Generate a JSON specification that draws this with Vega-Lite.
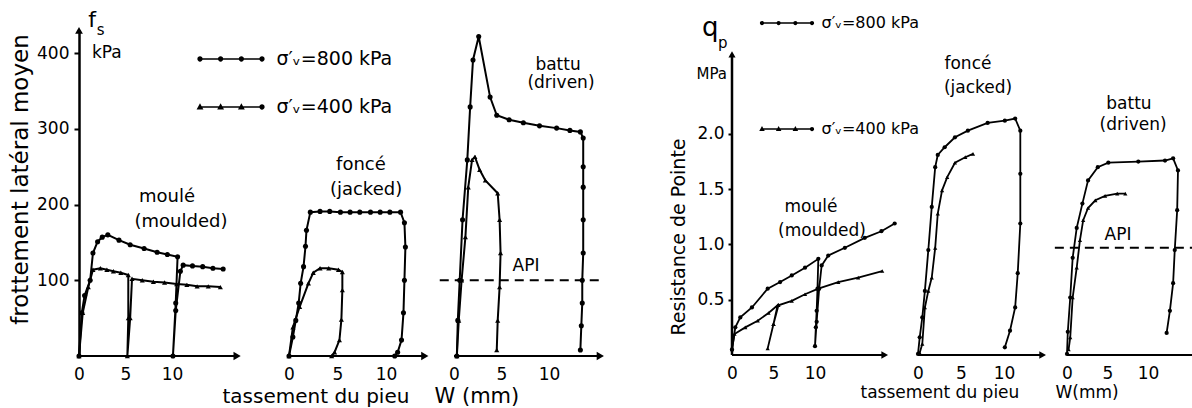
{
"$schema": "https://vega.github.io/schema/vega-lite/v6.json",
"autosize": {"type": "none"},
"padding": {"left": 79, "top": 30, "right": 1113, "bottom": 378},
"background": "white",
"spacing": 0,
"bounds": "flush",
"config": {
 "view": {"stroke": null},
 "font": "DejaVu Sans",
 "text": {"font": "DejaVu Sans", "color": "black"},
 "axis": {"grid": false, "labelFont": "DejaVu Sans", "titleFont": "DejaVu Sans", "labelColor": "black", "titleColor": "black", "domainColor": "black", "tickColor": "black", "titleFontWeight": "normal", "labelFontSize": 17, "labelFlush": false},
 "legend": {"labelFont": "DejaVu Sans", "labelColor": "black"}
},
"datasets": {
 "fs": [
  {"pile":"moulé","stress":"800","i":1,"w":0,"fs":0},{"pile":"moulé","stress":"800","i":2,"w":0.3,"fs":57},{"pile":"moulé","stress":"800","i":3,"w":0.6,"fs":80},{"pile":"moulé","stress":"800","i":4,"w":1.2,"fs":100},{"pile":"moulé","stress":"800","i":5,"w":1.5,"fs":136},{"pile":"moulé","stress":"800","i":6,"w":2.0,"fs":151},{"pile":"moulé","stress":"800","i":7,"w":2.5,"fs":157},{"pile":"moulé","stress":"800","i":8,"w":3.1,"fs":160},{"pile":"moulé","stress":"800","i":9,"w":4.3,"fs":153},{"pile":"moulé","stress":"800","i":10,"w":5.5,"fs":147},{"pile":"moulé","stress":"800","i":11,"w":7.0,"fs":142},{"pile":"moulé","stress":"800","i":12,"w":8.4,"fs":137},{"pile":"moulé","stress":"800","i":13,"w":9.5,"fs":134},{"pile":"moulé","stress":"800","i":14,"w":10.6,"fs":131},{"pile":"moulé","stress":"800","i":15,"w":10.4,"fs":70},{"pile":"moulé","stress":"800","i":16,"w":10.1,"fs":0},{"pile":"moulé","stress":"800","i":17,"w":10.4,"fs":60},{"pile":"moulé","stress":"800","i":18,"w":10.9,"fs":112},{"pile":"moulé","stress":"800","i":19,"w":11.2,"fs":120},{"pile":"moulé","stress":"800","i":20,"w":12.2,"fs":119},{"pile":"moulé","stress":"800","i":21,"w":13.3,"fs":118},{"pile":"moulé","stress":"800","i":22,"w":14.4,"fs":116},{"pile":"moulé","stress":"800","i":23,"w":15.5,"fs":115},
  {"pile":"moulé","stress":"400","i":1,"w":0,"fs":0},{"pile":"moulé","stress":"400","i":2,"w":0.4,"fs":57},{"pile":"moulé","stress":"400","i":3,"w":1.0,"fs":91},{"pile":"moulé","stress":"400","i":4,"w":1.5,"fs":114},{"pile":"moulé","stress":"400","i":5,"w":2.3,"fs":116},{"pile":"moulé","stress":"400","i":6,"w":3.0,"fs":114},{"pile":"moulé","stress":"400","i":7,"w":3.7,"fs":112},{"pile":"moulé","stress":"400","i":8,"w":4.5,"fs":110},{"pile":"moulé","stress":"400","i":9,"w":5.3,"fs":107},{"pile":"moulé","stress":"400","i":10,"w":5.3,"fs":50},{"pile":"moulé","stress":"400","i":11,"w":5.2,"fs":0},{"pile":"moulé","stress":"400","i":12,"w":5.5,"fs":50},{"pile":"moulé","stress":"400","i":13,"w":5.7,"fs":102},{"pile":"moulé","stress":"400","i":14,"w":6.8,"fs":100},{"pile":"moulé","stress":"400","i":15,"w":8.0,"fs":98},{"pile":"moulé","stress":"400","i":16,"w":9.2,"fs":97},{"pile":"moulé","stress":"400","i":17,"w":10.5,"fs":95},{"pile":"moulé","stress":"400","i":18,"w":11.6,"fs":94},{"pile":"moulé","stress":"400","i":19,"w":12.7,"fs":92},{"pile":"moulé","stress":"400","i":20,"w":13.9,"fs":92},{"pile":"moulé","stress":"400","i":21,"w":15.2,"fs":91},
  {"pile":"foncé","stress":"800","i":1,"w":0,"fs":0},{"pile":"foncé","stress":"800","i":2,"w":0.4,"fs":25},{"pile":"foncé","stress":"800","i":3,"w":0.7,"fs":47},{"pile":"foncé","stress":"800","i":4,"w":1.0,"fs":70},{"pile":"foncé","stress":"800","i":5,"w":1.2,"fs":96},{"pile":"foncé","stress":"800","i":6,"w":1.5,"fs":118},{"pile":"foncé","stress":"800","i":7,"w":1.7,"fs":145},{"pile":"foncé","stress":"800","i":8,"w":1.8,"fs":166},{"pile":"foncé","stress":"800","i":9,"w":2.2,"fs":190},{"pile":"foncé","stress":"800","i":10,"w":3.2,"fs":191},{"pile":"foncé","stress":"800","i":11,"w":4.2,"fs":191},{"pile":"foncé","stress":"800","i":12,"w":5.3,"fs":190},{"pile":"foncé","stress":"800","i":13,"w":6.3,"fs":190},{"pile":"foncé","stress":"800","i":14,"w":7.3,"fs":190},{"pile":"foncé","stress":"800","i":15,"w":8.4,"fs":190},{"pile":"foncé","stress":"800","i":16,"w":9.4,"fs":190},{"pile":"foncé","stress":"800","i":17,"w":10.4,"fs":190},{"pile":"foncé","stress":"800","i":18,"w":11.5,"fs":190},{"pile":"foncé","stress":"800","i":19,"w":11.9,"fs":176},{"pile":"foncé","stress":"800","i":20,"w":12.0,"fs":144},{"pile":"foncé","stress":"800","i":21,"w":11.9,"fs":100},{"pile":"foncé","stress":"800","i":22,"w":11.8,"fs":57},{"pile":"foncé","stress":"800","i":23,"w":11.6,"fs":21},{"pile":"foncé","stress":"800","i":24,"w":11.2,"fs":5},{"pile":"foncé","stress":"800","i":25,"w":10.9,"fs":0},
  {"pile":"foncé","stress":"400","i":1,"w":0,"fs":0},{"pile":"foncé","stress":"400","i":2,"w":0.4,"fs":38},{"pile":"foncé","stress":"400","i":3,"w":1.1,"fs":65},{"pile":"foncé","stress":"400","i":4,"w":2.0,"fs":96},{"pile":"foncé","stress":"400","i":5,"w":2.5,"fs":110},{"pile":"foncé","stress":"400","i":6,"w":3.2,"fs":116},{"pile":"foncé","stress":"400","i":7,"w":4.1,"fs":116},{"pile":"foncé","stress":"400","i":8,"w":5.1,"fs":114},{"pile":"foncé","stress":"400","i":9,"w":5.5,"fs":111},{"pile":"foncé","stress":"400","i":10,"w":5.5,"fs":87},{"pile":"foncé","stress":"400","i":11,"w":5.4,"fs":48},{"pile":"foncé","stress":"400","i":12,"w":5.2,"fs":21},{"pile":"foncé","stress":"400","i":13,"w":4.7,"fs":5},{"pile":"foncé","stress":"400","i":14,"w":4.4,"fs":0},
  {"pile":"battu","stress":"800","i":1,"w":0.3,"fs":0},{"pile":"battu","stress":"800","i":2,"w":0.4,"fs":47},{"pile":"battu","stress":"800","i":3,"w":0.6,"fs":100},{"pile":"battu","stress":"800","i":4,"w":0.9,"fs":180},{"pile":"battu","stress":"800","i":5,"w":1.4,"fs":259},{"pile":"battu","stress":"800","i":6,"w":1.7,"fs":329},{"pile":"battu","stress":"800","i":7,"w":2.0,"fs":391},{"pile":"battu","stress":"800","i":8,"w":2.6,"fs":422},{"pile":"battu","stress":"800","i":9,"w":3.8,"fs":342},{"pile":"battu","stress":"800","i":10,"w":4.5,"fs":318},{"pile":"battu","stress":"800","i":11,"w":5.8,"fs":312},{"pile":"battu","stress":"800","i":12,"w":7.3,"fs":308},{"pile":"battu","stress":"800","i":13,"w":9.0,"fs":304},{"pile":"battu","stress":"800","i":14,"w":10.8,"fs":301},{"pile":"battu","stress":"800","i":15,"w":12.2,"fs":298},{"pile":"battu","stress":"800","i":16,"w":13.3,"fs":296},{"pile":"battu","stress":"800","i":17,"w":13.6,"fs":288},{"pile":"battu","stress":"800","i":18,"w":13.6,"fs":250},{"pile":"battu","stress":"800","i":19,"w":13.6,"fs":223},{"pile":"battu","stress":"800","i":20,"w":13.6,"fs":180},{"pile":"battu","stress":"800","i":21,"w":13.6,"fs":136},{"pile":"battu","stress":"800","i":22,"w":13.5,"fs":100},{"pile":"battu","stress":"800","i":23,"w":13.5,"fs":70},{"pile":"battu","stress":"800","i":24,"w":13.4,"fs":40},{"pile":"battu","stress":"800","i":25,"w":13.3,"fs":8},
  {"pile":"battu","stress":"400","i":1,"w":0.3,"fs":0},{"pile":"battu","stress":"400","i":2,"w":0.5,"fs":47},{"pile":"battu","stress":"400","i":3,"w":0.8,"fs":100},{"pile":"battu","stress":"400","i":4,"w":1.2,"fs":157},{"pile":"battu","stress":"400","i":5,"w":1.5,"fs":223},{"pile":"battu","stress":"400","i":6,"w":1.9,"fs":259},{"pile":"battu","stress":"400","i":7,"w":2.2,"fs":263},{"pile":"battu","stress":"400","i":8,"w":2.7,"fs":246},{"pile":"battu","stress":"400","i":9,"w":3.3,"fs":232},{"pile":"battu","stress":"400","i":10,"w":4.6,"fs":215},{"pile":"battu","stress":"400","i":11,"w":4.8,"fs":180},{"pile":"battu","stress":"400","i":12,"w":4.9,"fs":136},{"pile":"battu","stress":"400","i":13,"w":4.8,"fs":91},{"pile":"battu","stress":"400","i":14,"w":4.6,"fs":47},{"pile":"battu","stress":"400","i":15,"w":4.5,"fs":8}
 ],
 "qp": [
  {"pile":"moulé","stress":"800","i":1,"w":0,"qp":0.05},{"pile":"moulé","stress":"800","i":2,"w":0.4,"qp":0.25},{"pile":"moulé","stress":"800","i":3,"w":1.0,"qp":0.34},{"pile":"moulé","stress":"800","i":4,"w":2.4,"qp":0.43},{"pile":"moulé","stress":"800","i":5,"w":4.3,"qp":0.60},{"pile":"moulé","stress":"800","i":6,"w":5.8,"qp":0.66},{"pile":"moulé","stress":"800","i":7,"w":7.2,"qp":0.72},{"pile":"moulé","stress":"800","i":8,"w":8.8,"qp":0.79},{"pile":"moulé","stress":"800","i":9,"w":10.4,"qp":0.87},{"pile":"moulé","stress":"800","i":10,"w":10.3,"qp":0.60},{"pile":"moulé","stress":"800","i":11,"w":10.2,"qp":0.40},{"pile":"moulé","stress":"800","i":12,"w":10.1,"qp":0.25},{"pile":"moulé","stress":"800","i":13,"w":10.0,"qp":0.08},{"pile":"moulé","stress":"800","i":14,"w":10.2,"qp":0.30},{"pile":"moulé","stress":"800","i":15,"w":10.5,"qp":0.60},{"pile":"moulé","stress":"800","i":16,"w":10.8,"qp":0.81},{"pile":"moulé","stress":"800","i":17,"w":11.6,"qp":0.90},{"pile":"moulé","stress":"800","i":18,"w":13.6,"qp":0.97},{"pile":"moulé","stress":"800","i":19,"w":16.0,"qp":1.06},{"pile":"moulé","stress":"800","i":20,"w":18.0,"qp":1.12},{"pile":"moulé","stress":"800","i":21,"w":19.6,"qp":1.19},
  {"pile":"moulé","stress":"400","i":1,"w":0,"qp":0.05},{"pile":"moulé","stress":"400","i":2,"w":0.3,"qp":0.19},{"pile":"moulé","stress":"400","i":3,"w":1.6,"qp":0.25},{"pile":"moulé","stress":"400","i":4,"w":3.1,"qp":0.31},{"pile":"moulé","stress":"400","i":5,"w":4.4,"qp":0.38},{"pile":"moulé","stress":"400","i":6,"w":5.5,"qp":0.45},{"pile":"moulé","stress":"400","i":7,"w":5.0,"qp":0.28},{"pile":"moulé","stress":"400","i":8,"w":4.3,"qp":0.06},{"pile":"moulé","stress":"400","i":9,"w":5.0,"qp":0.28},{"pile":"moulé","stress":"400","i":10,"w":5.6,"qp":0.45},{"pile":"moulé","stress":"400","i":11,"w":7.2,"qp":0.49},{"pile":"moulé","stress":"400","i":12,"w":8.8,"qp":0.55},{"pile":"moulé","stress":"400","i":13,"w":10.4,"qp":0.60},{"pile":"moulé","stress":"400","i":14,"w":12.8,"qp":0.66},{"pile":"moulé","stress":"400","i":15,"w":15.2,"qp":0.70},{"pile":"moulé","stress":"400","i":16,"w":18.1,"qp":0.76},
  {"pile":"foncé","stress":"800","i":1,"w":0,"qp":0.01},{"pile":"foncé","stress":"800","i":2,"w":0.2,"qp":0.16},{"pile":"foncé","stress":"800","i":3,"w":0.5,"qp":0.34},{"pile":"foncé","stress":"800","i":4,"w":0.8,"qp":0.58},{"pile":"foncé","stress":"800","i":5,"w":1.2,"qp":0.95},{"pile":"foncé","stress":"800","i":6,"w":1.6,"qp":1.34},{"pile":"foncé","stress":"800","i":7,"w":2.0,"qp":1.70},{"pile":"foncé","stress":"800","i":8,"w":2.3,"qp":1.81},{"pile":"foncé","stress":"800","i":9,"w":3.1,"qp":1.88},{"pile":"foncé","stress":"800","i":10,"w":4.3,"qp":1.97},{"pile":"foncé","stress":"800","i":11,"w":5.8,"qp":2.03},{"pile":"foncé","stress":"800","i":12,"w":8.1,"qp":2.10},{"pile":"foncé","stress":"800","i":13,"w":10.1,"qp":2.12},{"pile":"foncé","stress":"800","i":14,"w":11.3,"qp":2.14},{"pile":"foncé","stress":"800","i":15,"w":11.9,"qp":2.03},{"pile":"foncé","stress":"800","i":16,"w":11.9,"qp":1.64},{"pile":"foncé","stress":"800","i":17,"w":11.9,"qp":1.19},{"pile":"foncé","stress":"800","i":18,"w":11.6,"qp":0.74},{"pile":"foncé","stress":"800","i":19,"w":11.3,"qp":0.43},{"pile":"foncé","stress":"800","i":20,"w":10.7,"qp":0.22},{"pile":"foncé","stress":"800","i":21,"w":10.1,"qp":0.07},
  {"pile":"foncé","stress":"400","i":1,"w":0.2,"qp":0.02},{"pile":"foncé","stress":"400","i":2,"w":0.5,"qp":0.10},{"pile":"foncé","stress":"400","i":3,"w":0.8,"qp":0.43},{"pile":"foncé","stress":"400","i":4,"w":1.2,"qp":0.58},{"pile":"foncé","stress":"400","i":5,"w":1.6,"qp":0.70},{"pile":"foncé","stress":"400","i":6,"w":2.0,"qp":0.97},{"pile":"foncé","stress":"400","i":7,"w":2.3,"qp":1.28},{"pile":"foncé","stress":"400","i":8,"w":2.8,"qp":1.49},{"pile":"foncé","stress":"400","i":9,"w":3.4,"qp":1.61},{"pile":"foncé","stress":"400","i":10,"w":4.3,"qp":1.74},{"pile":"foncé","stress":"400","i":11,"w":5.5,"qp":1.79},{"pile":"foncé","stress":"400","i":12,"w":6.4,"qp":1.82},
  {"pile":"battu","stress":"800","i":1,"w":0,"qp":0.01},{"pile":"battu","stress":"800","i":2,"w":0.1,"qp":0.21},{"pile":"battu","stress":"800","i":3,"w":0.4,"qp":0.52},{"pile":"battu","stress":"800","i":4,"w":0.7,"qp":0.88},{"pile":"battu","stress":"800","i":5,"w":1.2,"qp":1.15},{"pile":"battu","stress":"800","i":6,"w":1.9,"qp":1.37},{"pile":"battu","stress":"800","i":7,"w":2.6,"qp":1.58},{"pile":"battu","stress":"800","i":8,"w":3.8,"qp":1.70},{"pile":"battu","stress":"800","i":9,"w":5.1,"qp":1.74},{"pile":"battu","stress":"800","i":10,"w":8.8,"qp":1.75},{"pile":"battu","stress":"800","i":11,"w":12.1,"qp":1.76},{"pile":"battu","stress":"800","i":12,"w":13.1,"qp":1.78},{"pile":"battu","stress":"800","i":13,"w":13.7,"qp":1.67},{"pile":"battu","stress":"800","i":14,"w":13.6,"qp":1.31},{"pile":"battu","stress":"800","i":15,"w":13.3,"qp":0.95},{"pile":"battu","stress":"800","i":16,"w":13.1,"qp":0.65},{"pile":"battu","stress":"800","i":17,"w":12.7,"qp":0.40},{"pile":"battu","stress":"800","i":18,"w":12.3,"qp":0.20},
  {"pile":"battu","stress":"400","i":1,"w":0.2,"qp":0.05},{"pile":"battu","stress":"400","i":2,"w":0.4,"qp":0.16},{"pile":"battu","stress":"400","i":3,"w":0.7,"qp":0.52},{"pile":"battu","stress":"400","i":4,"w":1.2,"qp":0.79},{"pile":"battu","stress":"400","i":5,"w":1.6,"qp":1.04},{"pile":"battu","stress":"400","i":6,"w":2.0,"qp":1.22},{"pile":"battu","stress":"400","i":7,"w":2.6,"qp":1.33},{"pile":"battu","stress":"400","i":8,"w":3.5,"qp":1.40},{"pile":"battu","stress":"400","i":9,"w":4.7,"qp":1.44},{"pile":"battu","stress":"400","i":10,"w":6.2,"qp":1.46},{"pile":"battu","stress":"400","i":11,"w":7.2,"qp":1.46}
 ]
},
"hconcat": [
 {
  "width": 210, "height": 326,
  "data": {"name": "fs"},
  "resolve": {"scale": {"shape": "independent"}},
  "layer": [
   {"transform": [{"filter": "datum.pile == 'moulé'"}],
    "mark": {"type": "line", "strokeWidth": 2, "color": "black"},
    "encoding": {
     "x": {"field": "w", "type": "quantitative", "scale": {"domain": [0, 22.58]}, "axis": {"values": [0, 5, 10], "title": null, "domain": false, "ticks": false, "labelPadding": 10}},
     "y": {"field": "fs", "type": "quantitative", "scale": {"domain": [0, 430.6]}, "axis": {"values": [100, 200, 300, 400], "domain": true, "domainWidth": 2.5, "tickSize": 5, "tickWidth": 2, "labelPadding": 5, "title": "frottement latéral moyen", "titleFontSize": 23, "titleX": -47, "titleY": 149}},
     "detail": {"field": "stress"},
     "order": {"field": "i", "type": "quantitative"}}},
   {"transform": [{"filter": "datum.pile == 'moulé'"}],
    "mark": {"type": "point", "filled": true, "color": "black", "size": 26, "opacity": 1},
    "encoding": {
     "x": {"field": "w", "type": "quantitative", "scale": {"domain": [0, 22.58]}},
     "y": {"field": "fs", "type": "quantitative", "scale": {"domain": [0, 430.6]}},
     "shape": {"field": "stress", "type": "nominal", "scale": {"domain": ["800", "400"], "range": ["circle", "triangle-up"]}, "legend": null}}},
   {"data": {"values": [{}]}, "mark": {"type": "rule", "strokeWidth": 2.2, "color": "black"},
    "encoding": {"x": {"datum": 0, "scale": {"domain": [0, 22.58]}}, "x2": {"datum": 17}, "y": {"datum": 0, "scale": {"domain": [0, 430.6]}}}},
   {"data": {"values": [{}]}, "mark": {"type": "point", "shape": "triangle-right", "filled": true, "color": "black", "size": 70, "opacity": 1},
    "encoding": {"x": {"datum": 17, "scale": {"domain": [0, 22.58]}}, "y": {"datum": 0, "scale": {"domain": [0, 430.6]}}}},
   {"data": {"values": [{}]}, "mark": {"type": "point", "shape": "triangle-up", "filled": true, "color": "black", "size": 60, "opacity": 1},
    "encoding": {"x": {"datum": 0, "scale": {"domain": [0, 22.58]}}, "y": {"datum": 430, "scale": {"domain": [0, 430.6]}}}},
   {"data": {"values": [{}]}, "mark": {"type": "text", "text": "f", "fontSize": 22, "align": "left", "baseline": "alphabetic"},
    "encoding": {"x": {"datum": 1.0, "scale": {"domain": [0, 22.58]}}, "y": {"datum": 434, "scale": {"domain": [0, 430.6]}}}},
   {"data": {"values": [{}]}, "mark": {"type": "text", "text": "s", "fontSize": 15, "align": "left", "baseline": "alphabetic"},
    "encoding": {"x": {"datum": 1.9, "scale": {"domain": [0, 22.58]}}, "y": {"datum": 424, "scale": {"domain": [0, 430.6]}}}},
   {"data": {"values": [{}]}, "mark": {"type": "text", "text": "kPa", "fontSize": 17, "align": "left", "baseline": "alphabetic"},
    "encoding": {"x": {"datum": 1.4, "scale": {"domain": [0, 22.58]}}, "y": {"datum": 394, "scale": {"domain": [0, 430.6]}}}},
   {"data": {"values": [{}]}, "mark": {"type": "text", "text": "moulé", "fontSize": 18, "align": "center", "baseline": "middle"},
    "encoding": {"x": {"datum": 9.46, "scale": {"domain": [0, 22.58]}}, "y": {"datum": 210, "scale": {"domain": [0, 430.6]}}}},
   {"data": {"values": [{}]}, "mark": {"type": "text", "text": "(moulded)", "fontSize": 18, "align": "center", "baseline": "middle"},
    "encoding": {"x": {"datum": 10.97, "scale": {"domain": [0, 22.58]}}, "y": {"datum": 177, "scale": {"domain": [0, 430.6]}}}},
   {"data": {"values": [{"s": "σ′ᵥ=800 kPa"}, {"s": "σ′ᵥ=400 kPa"}]},
    "mark": {"type": "point", "opacity": 0, "filled": true, "color": "black"},
    "encoding": {"shape": {"field": "s", "type": "nominal",
      "scale": {"domain": ["σ′ᵥ=800 kPa", "σ′ᵥ=400 kPa"], "range": ["M-2,-0.05H2V0.05H-2ZM-2.17,0a0.17,0.17 0 1,1 0.34,0a0.17,0.17 0 1,1 -0.34,0M-0.84,0a0.17,0.17 0 1,1 0.34,0a0.17,0.17 0 1,1 -0.34,0M0.5,0a0.17,0.17 0 1,1 0.34,0a0.17,0.17 0 1,1 -0.34,0M1.83,0a0.17,0.17 0 1,1 0.34,0a0.17,0.17 0 1,1 -0.34,0", "M-2,-0.05H2V0.05H-2ZM-2.22,0.16L-2,-0.24L-1.78,0.16ZM-0.89,0.16L-0.67,-0.24L-0.45,0.16ZM0.45,0.16L0.67,-0.24L0.89,0.16ZM1.83,0a0.17,0.17 0 1,1 0.34,0a0.17,0.17 0 1,1 -0.34,0"]},
      "legend": {"orient": "none", "legendX": 136.5, "legendY": 13.5, "title": null, "padding": 0, "symbolSize": 961, "rowPadding": 22, "labelOffset": 30, "labelFontSize": 19, "labelLimit": 0, "symbolOpacity": 1, "symbolStrokeWidth": 0, "symbolFillColor": "black"}}}}
  ]
 },
 {
  "width": 165, "height": 326,
  "data": {"name": "fs"},
  "layer": [
   {"transform": [{"filter": "datum.pile == 'foncé'"}],
    "mark": {"type": "line", "strokeWidth": 2, "color": "black"},
    "encoding": {
     "x": {"field": "w", "type": "quantitative", "scale": {"domain": [0, 17.01]}, "axis": {"values": [0, 5, 10], "domain": false, "ticks": false, "labelPadding": 10, "title": "tassement du pieu", "titleFontSize": 20, "titleX": -67, "titleY": 46, "titleAlign": "left", "titleBaseline": "alphabetic"}},
     "y": {"field": "fs", "type": "quantitative", "scale": {"domain": [0, 430.6]}, "axis": null},
     "detail": {"field": "stress"},
     "order": {"field": "i", "type": "quantitative"}}},
   {"transform": [{"filter": "datum.pile == 'foncé'"}],
    "mark": {"type": "point", "filled": true, "color": "black", "size": 26, "opacity": 1},
    "encoding": {
     "x": {"field": "w", "type": "quantitative", "scale": {"domain": [0, 17.01]}},
     "y": {"field": "fs", "type": "quantitative", "scale": {"domain": [0, 430.6]}, "axis": null},
     "shape": {"field": "stress", "type": "nominal", "scale": {"domain": ["800", "400"], "range": ["circle", "triangle-up"]}, "legend": null}}},
   {"data": {"values": [{}]}, "mark": {"type": "rule", "strokeWidth": 2.2, "color": "black"},
    "encoding": {"x": {"datum": 0, "scale": {"domain": [0, 17.01]}}, "x2": {"datum": 14}, "y": {"datum": 0, "scale": {"domain": [0, 430.6]}, "axis": null}}},
   {"data": {"values": [{}]}, "mark": {"type": "point", "shape": "triangle-right", "filled": true, "color": "black", "size": 70, "opacity": 1},
    "encoding": {"x": {"datum": 14, "scale": {"domain": [0, 17.01]}}, "y": {"datum": 0, "scale": {"domain": [0, 430.6]}, "axis": null}}},
   {"data": {"values": [{}]}, "mark": {"type": "text", "text": "foncé", "fontSize": 18, "align": "center", "baseline": "middle"},
    "encoding": {"x": {"datum": 7.42, "scale": {"domain": [0, 17.01]}}, "y": {"datum": 252, "scale": {"domain": [0, 430.6]}, "axis": null}}},
   {"data": {"values": [{}]}, "mark": {"type": "text", "text": "(jacked)", "fontSize": 18, "align": "center", "baseline": "middle"},
    "encoding": {"x": {"datum": 7.94, "scale": {"domain": [0, 17.01]}}, "y": {"datum": 219, "scale": {"domain": [0, 430.6]}, "axis": null}}}
  ]
 },
 {
  "width": 278, "height": 326,
  "data": {"name": "fs"},
  "layer": [
   {"transform": [{"filter": "datum.pile == 'battu'"}],
    "mark": {"type": "line", "strokeWidth": 2, "color": "black"},
    "encoding": {
     "x": {"field": "w", "type": "quantitative", "scale": {"domain": [0, 29.26]}, "axis": {"values": [0, 5, 10], "domain": false, "ticks": false, "labelPadding": 10, "title": "W (mm)", "titleFontSize": 21, "titleX": -20, "titleY": 46, "titleAlign": "left", "titleBaseline": "alphabetic"}},
     "y": {"field": "fs", "type": "quantitative", "scale": {"domain": [0, 430.6]}, "axis": null},
     "detail": {"field": "stress"},
     "order": {"field": "i", "type": "quantitative"}}},
   {"transform": [{"filter": "datum.pile == 'battu'"}],
    "mark": {"type": "point", "filled": true, "color": "black", "size": 26, "opacity": 1},
    "encoding": {
     "x": {"field": "w", "type": "quantitative", "scale": {"domain": [0, 29.26]}},
     "y": {"field": "fs", "type": "quantitative", "scale": {"domain": [0, 430.6]}, "axis": null},
     "shape": {"field": "stress", "type": "nominal", "scale": {"domain": ["800", "400"], "range": ["circle", "triangle-up"]}, "legend": null}}},
   {"data": {"values": [{}]}, "mark": {"type": "rule", "strokeWidth": 2.2, "color": "black"},
    "encoding": {"x": {"datum": 0, "scale": {"domain": [0, 29.26]}}, "x2": {"datum": 15.4}, "y": {"datum": 0, "scale": {"domain": [0, 430.6]}, "axis": null}}},
   {"data": {"values": [{}]}, "mark": {"type": "point", "shape": "triangle-right", "filled": true, "color": "black", "size": 70, "opacity": 1},
    "encoding": {"x": {"datum": 15.4, "scale": {"domain": [0, 29.26]}}, "y": {"datum": 0, "scale": {"domain": [0, 430.6]}, "axis": null}}},
   {"data": {"values": [{}]}, "mark": {"type": "rule", "strokeWidth": 2, "strokeDash": [9, 6], "color": "black"},
    "encoding": {"x": {"datum": -1.5, "scale": {"domain": [0, 29.26]}}, "x2": {"datum": 15.5}, "y": {"datum": 100, "scale": {"domain": [0, 430.6]}, "axis": null}}},
   {"data": {"values": [{}]}, "mark": {"type": "text", "text": "API", "fontSize": 17, "align": "center", "baseline": "middle"},
    "encoding": {"x": {"datum": 7.58, "scale": {"domain": [0, 29.26]}}, "y": {"datum": 119, "scale": {"domain": [0, 430.6]}, "axis": null}}},
   {"data": {"values": [{}]}, "mark": {"type": "text", "text": "battu", "fontSize": 17, "align": "center", "baseline": "alphabetic"},
    "encoding": {"x": {"datum": 10.95, "scale": {"domain": [0, 29.26]}}, "y": {"datum": 378, "scale": {"domain": [0, 430.6]}, "axis": null}}},
   {"data": {"values": [{}]}, "mark": {"type": "text", "text": "(driven)", "fontSize": 17, "align": "center", "baseline": "alphabetic"},
    "encoding": {"x": {"datum": 11.26, "scale": {"domain": [0, 29.26]}}, "y": {"datum": 354, "scale": {"domain": [0, 430.6]}, "axis": null}}}
  ]
 },
 {
  "width": 186, "height": 325,
  "data": {"name": "qp"},
  "resolve": {"scale": {"shape": "independent"}},
  "layer": [
   {"transform": [{"filter": "datum.pile == 'moulé'"}],
    "mark": {"type": "line", "strokeWidth": 1.8, "color": "black"},
    "encoding": {
     "x": {"field": "w", "type": "quantitative", "scale": {"domain": [0, 22.41]}, "axis": {"values": [0, 5, 10], "title": null, "domain": false, "ticks": false, "labelPadding": 10}},
     "y": {"field": "qp", "type": "quantitative", "scale": {"domain": [0, 2.941]}, "axis": {"values": [0.5, 1, 1.5, 2], "format": ".1f", "domain": false, "tickSize": 4, "tickWidth": 2, "labelPadding": 4, "title": "Resistance de Pointe", "titleFontSize": 19, "titleX": -44, "titleY": 206.5}},
     "detail": {"field": "stress"},
     "order": {"field": "i", "type": "quantitative"}}},
   {"transform": [{"filter": "datum.pile == 'moulé'"}],
    "mark": {"type": "point", "filled": true, "color": "black", "size": 18, "opacity": 1},
    "encoding": {
     "x": {"field": "w", "type": "quantitative", "scale": {"domain": [0, 22.41]}},
     "y": {"field": "qp", "type": "quantitative", "scale": {"domain": [0, 2.941]}},
     "shape": {"field": "stress", "type": "nominal", "scale": {"domain": ["800", "400"], "range": ["circle", "triangle-up"]}, "legend": null}}},
   {"data": {"values": [{}]}, "mark": {"type": "rule", "strokeWidth": 2.5, "color": "black"},
    "encoding": {"x": {"datum": 0, "scale": {"domain": [0, 22.41]}}, "y": {"datum": 0, "scale": {"domain": [0, 2.941]}}, "y2": {"datum": 2.72}}},
   {"data": {"values": [{}]}, "mark": {"type": "point", "shape": "triangle-up", "filled": true, "color": "black", "size": 50, "opacity": 1},
    "encoding": {"x": {"datum": 0, "scale": {"domain": [0, 22.41]}}, "y": {"datum": 2.72, "scale": {"domain": [0, 2.941]}}}},
   {"data": {"values": [{}]}, "mark": {"type": "rule", "strokeWidth": 2.2, "color": "black"},
    "encoding": {"x": {"datum": 0, "scale": {"domain": [0, 22.41]}}, "x2": {"datum": 18.4}, "y": {"datum": 0, "scale": {"domain": [0, 2.941]}}}},
   {"data": {"values": [{}]}, "mark": {"type": "point", "shape": "triangle-right", "filled": true, "color": "black", "size": 60, "opacity": 1},
    "encoding": {"x": {"datum": 18.4, "scale": {"domain": [0, 22.41]}}, "y": {"datum": 0, "scale": {"domain": [0, 2.941]}}}},
   {"data": {"values": [{}]}, "mark": {"type": "text", "text": "q", "fontSize": 26, "align": "left", "baseline": "alphabetic"},
    "encoding": {"x": {"datum": -3.6, "scale": {"domain": [0, 22.41]}}, "y": {"datum": 2.89, "scale": {"domain": [0, 2.941]}}}},
   {"data": {"values": [{}]}, "mark": {"type": "text", "text": "p", "fontSize": 15, "align": "left", "baseline": "alphabetic"},
    "encoding": {"x": {"datum": -1.7, "scale": {"domain": [0, 22.41]}}, "y": {"datum": 2.78, "scale": {"domain": [0, 2.941]}}}},
   {"data": {"values": [{}]}, "mark": {"type": "text", "text": "MPa", "fontSize": 15, "align": "right", "baseline": "alphabetic"},
    "encoding": {"x": {"datum": -0.6, "scale": {"domain": [0, 22.41]}}, "y": {"datum": 2.5, "scale": {"domain": [0, 2.941]}}}},
   {"data": {"values": [{}]}, "mark": {"type": "text", "text": "moulé", "fontSize": 17, "align": "center", "baseline": "middle"},
    "encoding": {"x": {"datum": 9.52, "scale": {"domain": [0, 22.41]}}, "y": {"datum": 1.34, "scale": {"domain": [0, 2.941]}}}},
   {"data": {"values": [{}]}, "mark": {"type": "text", "text": "(moulded)", "fontSize": 17, "align": "center", "baseline": "middle"},
    "encoding": {"x": {"datum": 10.84, "scale": {"domain": [0, 22.41]}}, "y": {"datum": 1.12, "scale": {"domain": [0, 2.941]}}}},
   {"data": {"values": [{"s": "σ′ᵥ=800 kPa"}, {"s": "σ′ᵥ=400 kPa"}]},
    "mark": {"type": "point", "opacity": 0, "filled": true, "color": "black"},
    "encoding": {"shape": {"field": "s", "type": "nominal",
      "scale": {"domain": ["σ′ᵥ=800 kPa", "σ′ᵥ=400 kPa"], "range": ["M-2,-0.06H2V0.06H-2ZM-2.17,0a0.17,0.17 0 1,1 0.34,0a0.17,0.17 0 1,1 -0.34,0M-0.84,0a0.17,0.17 0 1,1 0.34,0a0.17,0.17 0 1,1 -0.34,0M0.5,0a0.17,0.17 0 1,1 0.34,0a0.17,0.17 0 1,1 -0.34,0M1.83,0a0.17,0.17 0 1,1 0.34,0a0.17,0.17 0 1,1 -0.34,0", "M-2,-0.06H2V0.06H-2ZM-2.22,0.16L-2,-0.24L-1.78,0.16ZM-0.89,0.16L-0.67,-0.24L-0.45,0.16ZM0.45,0.16L0.67,-0.24L0.89,0.16ZM1.83,0a0.17,0.17 0 1,1 0.34,0a0.17,0.17 0 1,1 -0.34,0"]},
      "legend": {"orient": "none", "legendX": 42.5, "legendY": -19.5, "title": null, "padding": 0, "symbolSize": 625, "rowPadding": 85, "labelOffset": 22, "labelFontSize": 16, "labelLimit": 0, "symbolOpacity": 1, "symbolStrokeWidth": 0, "symbolFillColor": "black"}}}}
  ]
 },
 {
  "width": 149, "height": 325,
  "data": {"name": "qp"},
  "layer": [
   {"transform": [{"filter": "datum.pile == 'foncé'"}],
    "mark": {"type": "line", "strokeWidth": 1.8, "color": "black"},
    "encoding": {
     "x": {"field": "w", "type": "quantitative", "scale": {"domain": [0, 17.33]}, "axis": {"values": [0, 5, 10], "domain": false, "ticks": false, "labelPadding": 10, "title": "tassement du pieu", "titleFontSize": 17, "titleX": -58, "titleY": 42, "titleAlign": "left", "titleBaseline": "alphabetic"}},
     "y": {"field": "qp", "type": "quantitative", "scale": {"domain": [0, 2.941]}, "axis": null},
     "detail": {"field": "stress"},
     "order": {"field": "i", "type": "quantitative"}}},
   {"transform": [{"filter": "datum.pile == 'foncé'"}],
    "mark": {"type": "point", "filled": true, "color": "black", "size": 18, "opacity": 1},
    "encoding": {
     "x": {"field": "w", "type": "quantitative", "scale": {"domain": [0, 17.33]}},
     "y": {"field": "qp", "type": "quantitative", "scale": {"domain": [0, 2.941]}, "axis": null},
     "shape": {"field": "stress", "type": "nominal", "scale": {"domain": ["800", "400"], "range": ["circle", "triangle-up"]}, "legend": null}}},
   {"data": {"values": [{}]}, "mark": {"type": "rule", "strokeWidth": 2.2, "color": "black"},
    "encoding": {"x": {"datum": 0, "scale": {"domain": [0, 17.33]}}, "x2": {"datum": 14.5}, "y": {"datum": 0, "scale": {"domain": [0, 2.941]}, "axis": null}}},
   {"data": {"values": [{}]}, "mark": {"type": "point", "shape": "triangle-right", "filled": true, "color": "black", "size": 60, "opacity": 1},
    "encoding": {"x": {"datum": 14.5, "scale": {"domain": [0, 17.33]}}, "y": {"datum": 0, "scale": {"domain": [0, 2.941]}, "axis": null}}},
   {"data": {"values": [{}]}, "mark": {"type": "text", "text": "foncé", "fontSize": 17, "align": "center", "baseline": "middle"},
    "encoding": {"x": {"datum": 5.81, "scale": {"domain": [0, 17.33]}}, "y": {"datum": 2.63, "scale": {"domain": [0, 2.941]}, "axis": null}}},
   {"data": {"values": [{}]}, "mark": {"type": "text", "text": "(jacked)", "fontSize": 17, "align": "center", "baseline": "middle"},
    "encoding": {"x": {"datum": 6.98, "scale": {"domain": [0, 17.33]}}, "y": {"datum": 2.42, "scale": {"domain": [0, 2.941]}, "axis": null}}}
  ]
 },
 {
  "width": 125, "height": 325,
  "data": {"name": "qp"},
  "layer": [
   {"transform": [{"filter": "datum.pile == 'battu'"}],
    "mark": {"type": "line", "strokeWidth": 1.8, "color": "black"},
    "encoding": {
     "x": {"field": "w", "type": "quantitative", "scale": {"domain": [0, 15.43]}, "axis": {"values": [0, 5, 10], "domain": false, "ticks": false, "labelPadding": 10, "title": "W(mm)", "titleFontSize": 17, "titleX": -12, "titleY": 42, "titleAlign": "left", "titleBaseline": "alphabetic"}},
     "y": {"field": "qp", "type": "quantitative", "scale": {"domain": [0, 2.941]}, "axis": null},
     "detail": {"field": "stress"},
     "order": {"field": "i", "type": "quantitative"}}},
   {"transform": [{"filter": "datum.pile == 'battu'"}],
    "mark": {"type": "point", "filled": true, "color": "black", "size": 18, "opacity": 1},
    "encoding": {
     "x": {"field": "w", "type": "quantitative", "scale": {"domain": [0, 15.43]}},
     "y": {"field": "qp", "type": "quantitative", "scale": {"domain": [0, 2.941]}, "axis": null},
     "shape": {"field": "stress", "type": "nominal", "scale": {"domain": ["800", "400"], "range": ["circle", "triangle-up"]}, "legend": null}}},
   {"data": {"values": [{}]}, "mark": {"type": "rule", "strokeWidth": 2.2, "color": "black"},
    "encoding": {"x": {"datum": 0, "scale": {"domain": [0, 15.43]}}, "x2": {"datum": 16}, "y": {"datum": 0, "scale": {"domain": [0, 2.941]}, "axis": null}}},
   {"data": {"values": [{}]}, "mark": {"type": "rule", "strokeWidth": 2, "strokeDash": [9, 6], "color": "black"},
    "encoding": {"x": {"datum": -1.5, "scale": {"domain": [0, 15.43]}}, "x2": {"datum": 16}, "y": {"datum": 0.97, "scale": {"domain": [0, 2.941]}, "axis": null}}},
   {"data": {"values": [{}]}, "mark": {"type": "text", "text": "API", "fontSize": 17, "align": "center", "baseline": "middle"},
    "encoding": {"x": {"datum": 6.3, "scale": {"domain": [0, 15.43]}}, "y": {"datum": 1.09, "scale": {"domain": [0, 2.941]}, "axis": null}}},
   {"data": {"values": [{}]}, "mark": {"type": "text", "text": "battu", "fontSize": 17, "align": "center", "baseline": "middle"},
    "encoding": {"x": {"datum": 7.65, "scale": {"domain": [0, 15.43]}}, "y": {"datum": 2.27, "scale": {"domain": [0, 2.941]}, "axis": null}}},
   {"data": {"values": [{}]}, "mark": {"type": "text", "text": "(driven)", "fontSize": 17, "align": "center", "baseline": "middle"},
    "encoding": {"x": {"datum": 8.15, "scale": {"domain": [0, 15.43]}}, "y": {"datum": 2.08, "scale": {"domain": [0, 2.941]}, "axis": null}}}
  ]
 }
]
}
